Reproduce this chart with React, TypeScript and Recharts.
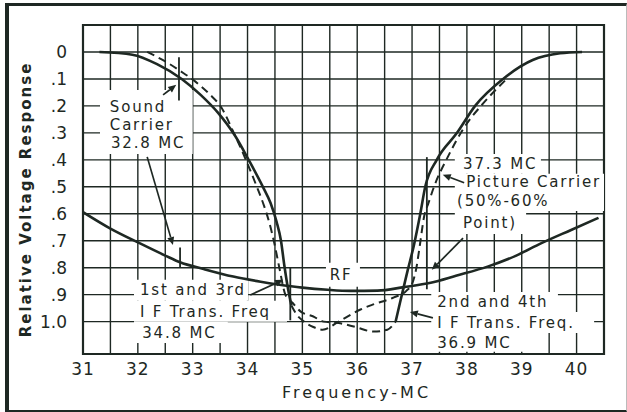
import React from 'react';
import {
  ComposedChart,
  Line,
  XAxis,
  YAxis,
  CartesianGrid,
  ReferenceArea,
  ReferenceLine,
  ReferenceDot,
} from 'recharts';

const INK = '#1e2823';
const FONT = '"DejaVu Sans", "Noto Sans", sans-serif';

// ---------- axes ----------
const xTicks = [31, 31.5, 32, 32.5, 33, 33.5, 34, 34.5, 35, 35.5, 36, 36.5, 37, 37.5, 38, 38.5, 39, 39.5, 40, 40.5];
const xTickLabels = ['31', '', '32', '', '33', '', '34', '', '35', '', '36', '', '37', '', '38', '', '39', '', '40', ''];
const yTicks = [-0.1, 0, 0.1, 0.2, 0.3, 0.4, 0.5, 0.6, 0.7, 0.8, 0.9, 1.0];
const yTickLabels = ['', '0', '.1', '.2', '.3', '.4', '.5', '.6', '.7', '.8', '.9', '1.0'];

// ---------- curves ----------
// IF response A: solid left branch
const ifASolidFreq = [31.3, 31.9, 32.35, 32.8, 33.15, 33.46, 33.77, 34.02, 34.28, 34.42, 34.53, 34.61, 34.67, 34.74, 34.8];
const ifASolidResp = [0.0, 0.01, 0.045, 0.1, 0.16, 0.225, 0.31, 0.4, 0.5, 0.56, 0.63, 0.7, 0.79, 0.88, 0.94];
// IF response A: dashed continuation (bowl + right branch)
const ifADashFreq = [34.8, 34.9, 35.0, 35.2, 35.37, 35.66, 36.06, 36.28, 36.67, 36.9, 37.01, 37.07, 37.14, 37.22, 37.3, 37.4, 37.65, 37.95, 38.3, 38.7];
const ifADashResp = [0.94, 0.975, 0.995, 1.02, 1.03, 1.0, 0.955, 0.937, 0.91, 0.885, 0.855, 0.81, 0.72, 0.61, 0.56, 0.5, 0.39, 0.28, 0.19, 0.105];
// IF response B: dashed left branch + bowl
const ifBDashFreq = [32.17, 32.5, 32.77, 33.05, 33.3, 33.52, 33.75, 33.97, 34.17, 34.3, 34.4, 34.49, 34.58, 34.69, 34.82, 34.97, 35.19, 35.39, 35.66, 35.97, 36.3, 36.55, 36.7];
const ifBDashResp = [0.0, 0.035, 0.07, 0.11, 0.155, 0.205, 0.3, 0.4, 0.5, 0.57, 0.635, 0.71, 0.8, 0.9, 0.93, 0.963, 0.98, 1.0, 1.005, 1.02, 1.037, 1.03, 1.0];
// IF response B: solid right branch
const ifBSolidFreq = [36.7, 36.78, 36.85, 36.92, 37.03, 37.15, 37.24, 37.45, 37.82, 38.15, 38.66, 39.2, 39.7, 40.1];
const ifBSolidResp = [1.0, 0.93, 0.87, 0.81, 0.72, 0.6, 0.5, 0.4, 0.3, 0.2, 0.1, 0.03, 0.005, 0.0];
// RF response
const rfFreq = [31, 31.5, 32.04, 32.5, 32.77, 33.2, 33.74, 34.24, 34.55, 35.0, 35.46, 35.88, 36.37, 36.85, 37.34, 37.8, 38.39, 38.9, 39.35, 39.9, 40.4];
const rfResp = [0.594, 0.655, 0.71, 0.755, 0.78, 0.805, 0.833, 0.852, 0.862, 0.874, 0.882, 0.886, 0.885, 0.872, 0.856, 0.83, 0.795, 0.755, 0.71, 0.66, 0.615];

// ---------- annotations ----------
const noteTexts = ['Sound', 'Carrier', '32.8 MC', '37.3 MC', 'Picture Carrier', '(50%-60%', 'Point)', 'RF', '1st and 3rd', 'I F Trans. Freq', '34.8 MC', '2nd and 4th', 'I F Trans. Freq.', '36.9 MC'];
const noteX = [31.49, 31.49, 31.51, 37.93, 37.99, 37.82, 37.93, 35.5, 32.04, 32.04, 32.08, 37.46, 37.46, 37.46];
const noteY = [0.204, 0.271, 0.337, 0.415, 0.484, 0.551, 0.634, 0.827, 0.882, 0.964, 1.042, 0.927, 1.005, 1.079];

// white backgrounds behind the annotation text [x1, x2, y1, y2]
const boxX1 = [31.31, 37.78, 37.78, 37.78, 35.43, 31.93, 31.93, 31.93, 37.35, 37.35, 37.35];
const boxX2 = [33.0, 39.35, 40.5, 39.08, 36.05, 34.01, 34.72, 33.64, 39.66, 40.32, 39.06];
const boxY1 = [0.141, 0.378, 0.452, 0.59, 0.782, 0.845, 0.923, 1.0, 0.89, 0.964, 1.042];
const boxY2 = [0.378, 0.452, 0.59, 0.675, 0.871, 0.923, 1.0, 1.079, 0.964, 1.042, 1.112];

// arrows: tail -> head
const arrowX1 = [32.46, 32.17, 37.95, 37.93, 34.05, 37.38];
const arrowY1 = [0.159, 0.389, 0.485, 0.69, 0.901, 0.986];
const arrowX2 = [32.7, 32.64, 37.56, 37.36, 34.65, 36.96];
const arrowY2 = [0.122, 0.716, 0.455, 0.808, 0.845, 0.964];

// marker ticks (vertical)
const markX = [32.75, 32.77, 37.27, 34.78];
const markY1 = [0.02, 0.725, 0.39, 0.8];
const markY2 = [0.18, 0.8, 0.88, 0.995];

const toPts = (xs: number[], ys: number[]) => xs.map((x, i) => ({ x, y: ys[i] }));

const ArrowShape = (props: any) => {
  const x1 = Number(props.x1), y1 = Number(props.y1), x2 = Number(props.x2), y2 = Number(props.y2);
  const dx = x2 - x1, dy = y2 - y1;
  const len = Math.hypot(dx, dy) || 1;
  const ux = dx / len, uy = dy / len;
  const hl = 8, hw = 3.5;
  const bx = x2 - ux * hl, by = y2 - uy * hl;
  return (
    <g>
      <line x1={x1} y1={y1} x2={bx} y2={by} stroke={INK} strokeWidth={1.7} />
      <polygon points={`${x2},${y2} ${bx - uy * hw},${by + ux * hw} ${bx + uy * hw},${by - ux * hw}`} fill={INK} />
    </g>
  );
};

const makeNote = (t: string) => (props: any) => {
  const vb = props.viewBox || {};
  const cx = (vb.x ?? 0) + (vb.width ?? 0) / 2;
  const cy = (vb.y ?? 0) + (vb.height ?? 0) / 2;
  return (
    <text x={cx} y={cy} dominantBaseline="central" textAnchor="start" fontFamily={FONT} fontSize={15} letterSpacing={1.8} fill={INK}>
      {t}
    </text>
  );
};

const XTick = (p: any) => {
  const i = xTicks.indexOf(p.payload.value);
  return (
    <text x={p.x} y={p.y + 7} textAnchor="middle" dominantBaseline="central" fontFamily={FONT} fontSize={17} letterSpacing={1} fill={INK}>
      {xTickLabels[i]}
    </text>
  );
};

const YTick = (p: any) => {
  const i = yTicks.indexOf(p.payload.value);
  return (
    <text x={p.x} y={p.y} textAnchor="end" dominantBaseline="central" fontFamily={FONT} fontSize={17} fill={INK}>
      {yTickLabels[i]}
    </text>
  );
};

const yTitle = (props: any) => {
  const vb = props.viewBox || {};
  const x = (vb.x ?? 0) + 26;
  const y = (vb.y ?? 0) + (vb.height ?? 0) / 2 + 10;
  return (
    <text x={x} y={y} transform={`rotate(-90 ${x} ${y})`} textAnchor="middle" dominantBaseline="central" fontFamily={FONT} fontSize={15} fontWeight="bold" letterSpacing={2} fill={INK}>
      Relative Voltage Response
    </text>
  );
};

const xTitle = (props: any) => {
  const vb = props.viewBox || {};
  const x = (vb.x ?? 0) + (vb.width ?? 0) / 2 + 13;
  const y = (vb.y ?? 0) + 38;
  return (
    <text x={x} y={y} textAnchor="middle" dominantBaseline="central" fontFamily={FONT} fontSize={16} letterSpacing={3} fill={INK}>
      Frequency-MC
    </text>
  );
};

export default function App() {
  return (
    <div style={{ position: 'absolute', left: 0, top: 0, width: 627, height: 412, background: '#ffffff', overflow: 'hidden' }}>
      <ComposedChart width={627} height={412} margin={{ top: 25, right: 23, bottom: 0, left: 0 }}>
        <CartesianGrid stroke={INK} strokeWidth={1.4} />
        <XAxis
          type="number"
          dataKey="x"
          domain={[31, 40.5]}
          ticks={xTicks}
          interval={0}
          allowDataOverflow
          height={58}
          tickLine={false}
          axisLine={{ stroke: INK, strokeWidth: 2 }}
          tick={XTick}
          label={xTitle}
        />
        <YAxis
          type="number"
          dataKey="y"
          domain={[-0.1, 1.12]}
          reversed
          ticks={yTicks}
          interval={0}
          allowDataOverflow
          width={83}
          tickLine={false}
          axisLine={false}
          tickMargin={10}
          tick={YTick}
          label={yTitle}
        />
        <ReferenceArea x1={31} x2={40.5} y1={-0.1} y2={1.12} fill="none" stroke={INK} strokeWidth={2.2} ifOverflow="visible" />
        {boxX1.map((x1, i) => (
          <ReferenceArea key={'b' + i} x1={x1} x2={boxX2[i]} y1={boxY1[i]} y2={boxY2[i]} fill="#ffffff" fillOpacity={1} stroke="none" ifOverflow="visible" />
        ))}
        <Line data={toPts(rfFreq, rfResp)} dataKey="y" type="monotone" stroke={INK} strokeWidth={2.6} dot={false} isAnimationActive={false} />
        <Line data={toPts(ifASolidFreq, ifASolidResp)} dataKey="y" type="monotone" stroke={INK} strokeWidth={2.6} dot={false} isAnimationActive={false} />
        <Line data={toPts(ifADashFreq, ifADashResp)} dataKey="y" type="monotone" stroke={INK} strokeWidth={2} strokeDasharray="8 5" dot={false} isAnimationActive={false} />
        <Line data={toPts(ifBDashFreq, ifBDashResp)} dataKey="y" type="monotone" stroke={INK} strokeWidth={2} strokeDasharray="8 5" dot={false} isAnimationActive={false} />
        <Line data={toPts(ifBSolidFreq, ifBSolidResp)} dataKey="y" type="monotone" stroke={INK} strokeWidth={2.6} dot={false} isAnimationActive={false} />
        {markX.map((x, i) => (
          <ReferenceLine key={'m' + i} segment={[{ x, y: markY1[i] }, { x, y: markY2[i] }]} stroke={INK} strokeWidth={1.8} ifOverflow="visible" />
        ))}
        {arrowX1.map((x, i) => (
          <ReferenceLine key={'a' + i} segment={[{ x, y: arrowY1[i] }, { x: arrowX2[i], y: arrowY2[i] }]} shape={ArrowShape} ifOverflow="visible" />
        ))}
        {noteTexts.map((t, i) => (
          <ReferenceDot key={'n' + i} x={noteX[i]} y={noteY[i]} r={0} fill="none" stroke="none" ifOverflow="visible" label={makeNote(t)} />
        ))}
      </ComposedChart>
      <div style={{ position: 'absolute', left: 5, top: 3, width: 617, height: 404, borderLeft: `4px solid ${INK}`, borderTop: `3px solid ${INK}`, borderBottom: `2px solid ${INK}`, borderRight: '1px solid #bbbbbb', pointerEvents: 'none' }} />
    </div>
  );
}
